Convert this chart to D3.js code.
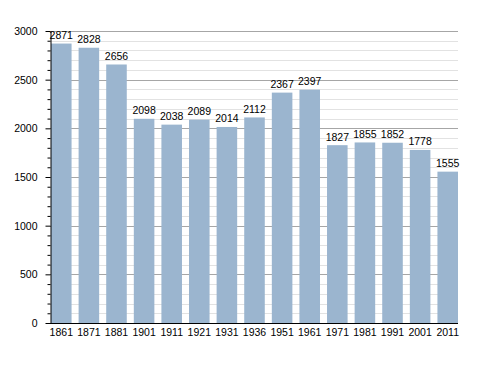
<!DOCTYPE html>
<html>
<head>
<meta charset="utf-8">
<script src="https://cdn.jsdelivr.net/npm/d3@7"></script>
<style>
  body { margin: 0; background: #fff; }
  svg text { font-family: "Liberation Sans", Arial, sans-serif; font-size: 10.5px; fill: #000; }
</style>
</head>
<body>
<svg id="chart" width="488" height="373"></svg>
<script>
const years = ["1861", "1871", "1881", "1901", "1911", "1921", "1931", "1936", "1951", "1961", "1971", "1981", "1991", "2001", "2011"];
const population = [2871, 2828, 2656, 2098, 2038, 2089, 2014, 2112, 2367, 2397, 1827, 1855, 1852, 1778, 1555];
const yTicks = [0, 500, 1000, 1500, 2000, 2500, 3000];

const svg = d3.select("svg#chart");

const x = d3.scaleBand()
  .domain(years)
  .range([51, 458])
  .paddingInner(0.255)
  .paddingOuter(0)
  .align(0);

const y = d3.scaleLinear()
  .domain([0, 3000])
  .range([323, 31]);

const minorTicks = d3.range(100, 3000, 100).filter(d => d % 500 !== 0);

// minor grid every 100
svg.append("g")
  .selectAll("line")
  .data(minorTicks)
  .join("line")
  .attr("x1", 50).attr("x2", 458)
  .attr("y1", d => Math.round(y(d)) + 0.5).attr("y2", d => Math.round(y(d)) + 0.5)
  .attr("stroke", "#e2e2e2");

// major grid
svg.append("g")
  .selectAll("line")
  .data(yTicks.filter(d => d > 0))
  .join("line")
  .attr("x1", 50).attr("x2", 458)
  .attr("y1", d => Math.round(y(d)) + 0.5).attr("y2", d => Math.round(y(d)) + 0.5)
  .attr("stroke", "#a6a6a6");

// bars
svg.append("g")
  .selectAll("rect")
  .data(population)
  .join("rect")
  .attr("x", (d, i) => x(years[i]))
  .attr("width", x.bandwidth())
  .attr("y", d => y(d))
  .attr("height", d => y(0) - y(d))
  .attr("fill", "#9bb5cf");

// value labels
svg.append("g")
  .selectAll("text")
  .data(population)
  .join("text")
  .attr("x", (d, i) => x(years[i]) + x.bandwidth() / 2)
  .attr("y", d => y(d) - 4.5)
  .attr("text-anchor", "middle")
  .text(d => d);

// y axis with minor ticks
const yAxis = d3.axisLeft(y).tickValues(yTicks).tickSize(5).tickPadding(8).tickSizeOuter(0).tickFormat(d3.format("d"));
const gy = svg.append("g").attr("transform", "translate(50.5,0)").call(yAxis);
gy.select(".domain").attr("stroke", "#000");
gy.selectAll(".tick text").style("font-size", "10.5px").style("font-family", "Liberation Sans, Arial, sans-serif");

svg.append("g")
  .attr("transform", "translate(50.5,0)")
  .call(d3.axisLeft(y).tickValues(minorTicks).tickSize(3).tickFormat(""))
  .select(".domain").remove();

// x axis
const xAxis = d3.axisBottom(x).tickSize(0).tickPadding(5);
const gx = svg.append("g").attr("transform", "translate(0,323.5)").call(xAxis);
gx.select(".domain").remove();
gx.selectAll(".tick text").style("font-size", "10.5px").style("font-family", "Liberation Sans, Arial, sans-serif");
svg.append("line")
  .attr("x1", 46).attr("x2", 458)
  .attr("y1", 323.5).attr("y2", 323.5)
  .attr("stroke", "#000");
</script>
</body>
</html>
